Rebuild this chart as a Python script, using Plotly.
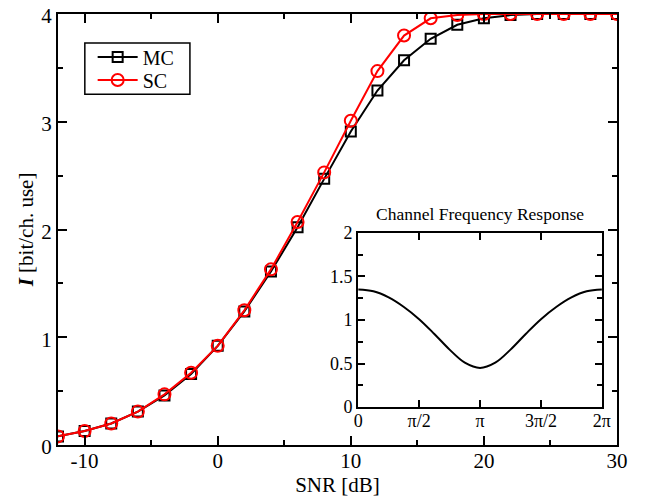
import numpy as np
import plotly.graph_objects as go

snr = [-12, -10, -8, -6, -4, -2, 0, 2, 4, 6, 8, 10, 12, 14, 16, 18, 20, 22, 24, 26, 28, 30]
mc = [0.08, 0.13, 0.20, 0.31, 0.46, 0.66, 0.92, 1.24, 1.61, 2.02, 2.47, 2.91, 3.29, 3.57, 3.77, 3.90, 3.96, 3.99, 4.0, 4.0, 4.0, 4.0]
sc = [0.08, 0.13, 0.20, 0.31, 0.47, 0.67, 0.92, 1.25, 1.63, 2.07, 2.53, 3.01, 3.47, 3.80, 3.96, 3.99, 4.0, 4.0, 4.0, 4.0, 4.0, 4.0]

# channel frequency response read at steps of pi/8 from 0 to 2*pi
freq_steps = list(range(17))
resp = [1.35, 1.33, 1.26, 1.15, 1.01, 0.84, 0.66, 0.51, 0.45, 0.51, 0.66, 0.84, 1.01, 1.15, 1.26, 1.33, 1.35]
freq = [k * np.pi / 8 for k in freq_steps]

main_xticks = [-10, 0, 10, 20, 30]
main_xtext = ["-10", "0", "10", "20", "30"]
main_yticks = [0, 1, 2, 3, 4]
inset_xticks = [0, np.pi / 2, np.pi, 3 * np.pi / 2, 2 * np.pi]
inset_xtext = ["0", "π/2", "π", "3π/2", "2π"]
inset_yticks = [0, 0.5, 1, 1.5, 2]
inset_ytext = ["0", "0.5", "1", "1.5", "2"]

FONT = "Liberation Serif"

fig = go.Figure()
fig.add_trace(go.Scatter(x=snr, y=mc, name="MC", mode="lines+markers", legend="legend",
                         line=dict(color="black", width=2),
                         marker=dict(symbol="square-open", size=10, color="black", line=dict(width=2))))
fig.add_trace(go.Scatter(x=snr, y=sc, name="SC", mode="lines+markers", legend="legend2",
                         line=dict(color="red", width=2),
                         marker=dict(symbol="circle-open", size=12, color="red", line=dict(width=2))))
fig.add_trace(go.Scatter(x=freq, y=resp, mode="lines", showlegend=False,
                         line=dict(color="black", width=2, shape="spline"),
                         xaxis="x2", yaxis="y2"))

axis_common = dict(showline=True, linecolor="black", linewidth=2, mirror="ticks",
                   ticks="inside", tickcolor="black", tickwidth=1.5, showgrid=False,
                   zeroline=False, automargin=False, ticklabeloverflow="allow")

leg_common = dict(xanchor="left", yanchor="middle", bgcolor="rgba(0,0,0,0)", borderwidth=0,
                  font=dict(family=FONT, size=20), itemwidth=40)

fig.update_layout(
    width=650, height=498,
    margin=dict(l=50, r=41, t=6, b=61),
    paper_bgcolor="white", plot_bgcolor="white",
    font=dict(family=FONT, color="black", size=21),
    showlegend=True,
    legend=dict(x=0.062, y=0.900, **leg_common),
    legend2=dict(x=0.062, y=0.847, **leg_common),
    xaxis=dict(range=[-12, 30], tickvals=main_xticks, ticktext=main_xtext, ticklen=9,
               minor=dict(ticks="inside", dtick=5, tick0=0, ticklen=5, tickwidth=1.5, tickcolor="black"),
               title=dict(text="SNR [dB]", standoff=0, font=dict(size=21)),
               ticklabelstandoff=-4,
               tickfont=dict(size=21), domain=[0, 1], **axis_common),
    yaxis=dict(range=[0, 4], tickvals=main_yticks, ticklen=9,
               minor=dict(ticks="inside", dtick=0.5, tick0=0, ticklen=5, tickwidth=1.5, tickcolor="black"),
               title=dict(text="<b><i>I</i></b> [bit/ch. use]", standoff=2, font=dict(size=21)),
               ticklabelshift=2,
               tickfont=dict(size=21), domain=[0, 1], **axis_common),
    xaxis2=dict(range=[0, 2 * np.pi], tickvals=inset_xticks, ticktext=inset_xtext, ticklen=7,
                ticklabelstandoff=-4,
                domain=[0.537, 0.973], anchor="y2", tickfont=dict(size=18), **axis_common),
    yaxis2=dict(range=[0, 2], tickvals=inset_yticks, ticktext=inset_ytext, ticklen=7,
                minor=dict(ticks="inside", dtick=0.25, tick0=0, ticklen=5, tickwidth=1.5, tickcolor="black"),
                domain=[0.088, 0.492], anchor="x2", tickfont=dict(size=18), **axis_common),
    annotations=[dict(text="Channel Frequency Response", x=0.755, y=0.536, xref="paper", yref="paper",
                      xanchor="center", yanchor="middle", showarrow=False,
                      font=dict(family=FONT, size=17.5, color="black"))],
    shapes=[dict(type="rect", xref="paper", yref="paper", x0=0.537, x1=0.973, y0=0.088, y1=0.492,
                 fillcolor="white", line=dict(width=0), layer="below"),
            dict(type="rect", xref="paper", yref="paper", x0=0.048, x1=0.236, y0=0.814, y1=0.933,
                 fillcolor="white", line=dict(color="black", width=1.5), layer="above")],
)

fig.write_html("out.html")
